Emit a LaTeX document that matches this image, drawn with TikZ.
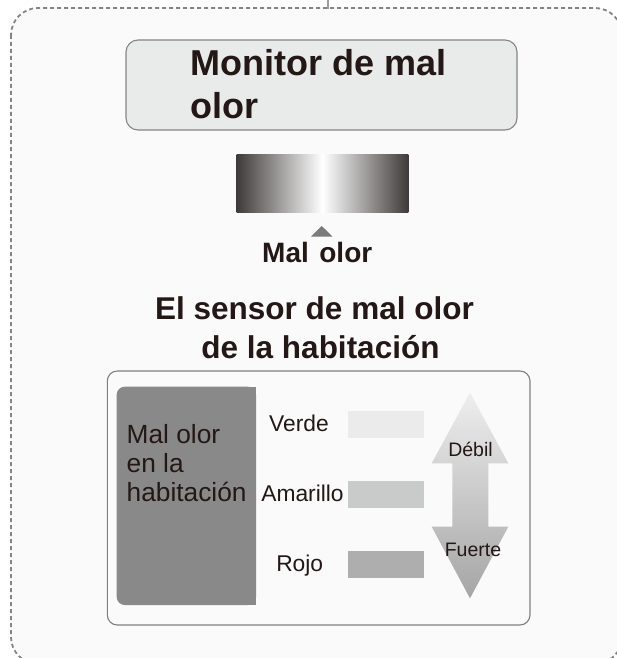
\documentclass[tikz,border=0pt]{standalone}
\usepackage{fontspec}
\setmainfont{Liberation Sans}
\definecolor{ink}{HTML}{231815}
\definecolor{dashgray}{HTML}{858585}
\definecolor{bgin}{HTML}{FAFAFA}
\definecolor{monfill}{HTML}{E9EAEA}
\definecolor{bardark}{HTML}{3E3A39}
\definecolor{tri}{HTML}{7A7A7A}
\definecolor{panelline}{HTML}{808080}
\definecolor{darkpanel}{HTML}{898989}
\definecolor{barA}{HTML}{EBEBEB}
\definecolor{barB}{HTML}{C9CACA}
\definecolor{barC}{HTML}{AEAEAE}
\definecolor{arrtop}{HTML}{EEEEEE}
\definecolor{arrbot}{HTML}{A5A5A5}
\tikzset{
  bigtitle/.style={text=ink, inner sep=0pt, font=\fontsize{36}{36}\selectfont\bfseries},
  subtitle/.style={text=ink, inner sep=0pt, font=\fontsize{31.5}{31.5}\selectfont\bfseries},
  marker/.style={text=ink, inner sep=0pt, font=\fontsize{28}{28}\selectfont\bfseries},
  paneltext/.style={text=ink, inner sep=0pt, font=\fontsize{26.3}{26.3}\selectfont},
  levtext/.style={text=ink, inner sep=0pt, font=\fontsize{22.8}{22.8}\selectfont},
  arrtext/.style={text=ink, inner sep=0pt, font=\fontsize{19.5}{19.5}\selectfont},
  levbar/.style={inner sep=0pt, minimum width=76.3pt, minimum height=27pt, draw=none},
}
\begin{document}
\begin{tikzpicture}[x=1pt, y=-1pt]
\useasboundingbox (0,0) rectangle (616,658);
\fill[white] (0,0) rectangle (616,658);
% outer dashed frame
\draw[dashgray, line width=1.8pt, dash pattern=on 4pt off 3pt, fill=bgin, rounded corners=27pt]
  (11,8) rectangle (622,664);
\draw[dashgray!80, line width=1.5pt] (328,0) -- (328,9);
% monitor box
\node[draw=dashgray, fill=monfill, line width=1.1pt, rounded corners=12pt,
      minimum width=391pt, minimum height=90pt, inner sep=0pt] (monitor) at (321.5,85) {};
\node[bigtitle, anchor=base west] (mon1) at (190.5,76) {Monitor de mal};
\node[bigtitle, anchor=base west] (mon2) at (190.5,118) {olor};
% gradient bar
\shade[left color=bardark, right color=bardark, middle color=white] (236.7,154) rectangle (408.3,212.7);
% marker triangle
\fill[tri] (311,236.7) -- (321.7,226) -- (332.7,236.7) -- cycle;
\node[marker, anchor=base west] (malolor) at (262,262) {Mal\hspace{10.5pt}olor};
% subtitle
\node[subtitle, anchor=base] (sub1) at (314.5,319.3) {El sensor de mal olor};
\node[subtitle, anchor=base] (sub2) at (320.5,358.3) {de la habitación};
% lower panel
\draw[panelline, line width=1.1pt, fill=bgin, rounded corners=10pt] (107.3,371) rectangle (530,625);
\fill[darkpanel, rounded corners=8pt] (116.7,386.7) rectangle (256,605);
\fill[darkpanel] (200,386.7) rectangle (256,605);
\node[paneltext, anchor=base west] (p1) at (126.5,443.3) {Mal olor};
\node[paneltext, anchor=base west] (p2) at (126.5,472) {en la};
\node[paneltext, anchor=base west] (p3) at (126.5,501.5) {habitación};
% levels
\node[levtext, anchor=base] (verde) at (299,431.7) {Verde};
\node[levtext, anchor=base] (amarillo) at (302.5,501.7) {Amarillo};
\node[levtext, anchor=base] (rojo) at (299.7,571.7) {Rojo};
\node[levbar, fill=barA, anchor=north west] (barverde) at (347.7,410.7) {};
\node[levbar, fill=barB, anchor=north west] (baramarillo) at (347.7,481) {};
\node[levbar, fill=barC, anchor=north west] (barrojo) at (347.7,551) {};
% double arrow
\shade[top color=arrtop, bottom color=arrbot]
  (470,392.7) -- (508.3,463.3) -- (488.3,463.3) -- (488.3,526.7) -- (508.3,526.7)
  -- (470,598.3) -- (431.7,526.7) -- (452.3,526.7) -- (452.3,463.3) -- (431.7,463.3) -- cycle;
\node[arrtext, anchor=base] (debil) at (470.5,456) {Débil};
\node[arrtext, anchor=base] (fuerte) at (473,556) {Fuerte};
\end{tikzpicture}
\end{document}
